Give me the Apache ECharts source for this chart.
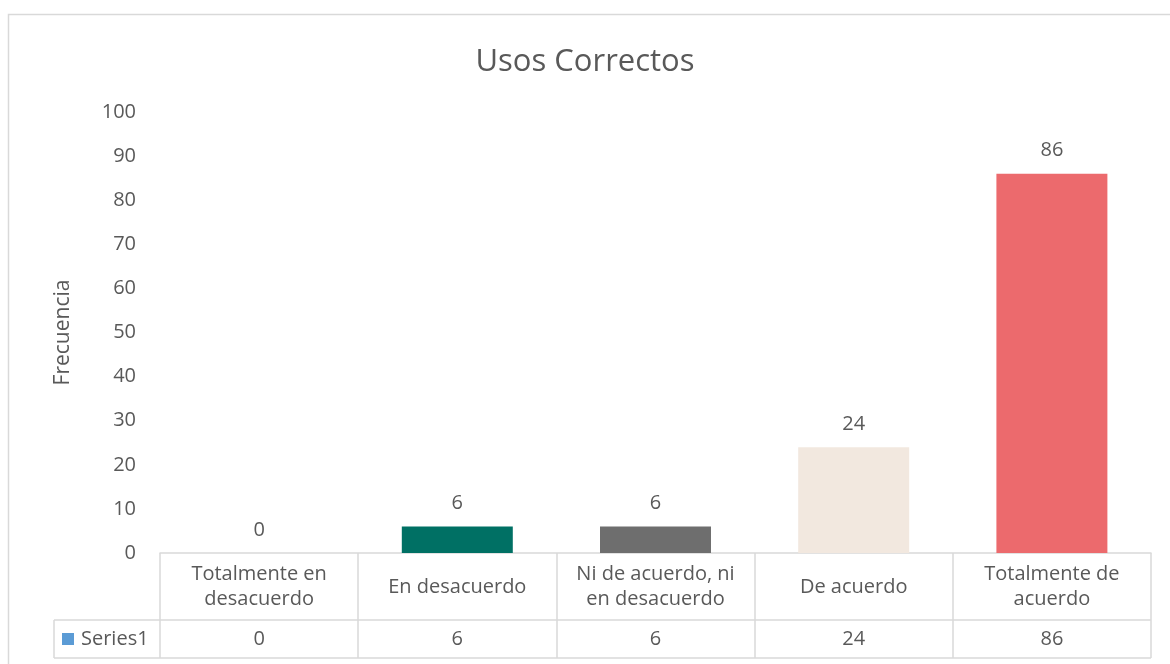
<!DOCTYPE html>
<html>
<head>
<meta charset="utf-8">
<script src="https://cdn.jsdelivr.net/npm/echarts@6/dist/echarts.min.js"></script>
<style>
  html, body { margin: 0; padding: 0; background: #fff; }
  #chart { width: 1170px; height: 664px; }
</style>
</head>
<body>
<div id="chart"></div>
<script>
// datos del gráfico
const categorias = ['Totalmente en\ndesacuerdo', 'En desacuerdo', 'Ni de acuerdo, ni\nen desacuerdo', 'De acuerdo', 'Totalmente de\nacuerdo']
const valores = [0, 6, 6, 24, 86]
const serieNombre = 'Series1'
const yTicks = { min: 0, max: 100, interval: 10 }

const colores = ['#5b9bd5', '#007064', '#6e6e6e', '#f2e8df', '#ec6a6d']
const fuente = 'Open Sans'
const gris = '#595959'
const linea = '#d9d9d9'

const myChart = echarts.init(document.getElementById('chart'))

const option = {
  backgroundColor: '#fff',
  animation: false,
  textStyle: { fontFamily: fuente },
  title: {
    text: 'Usos Correctos',
    left: 'center',
    top: 42,
    textStyle: { fontFamily: fuente, fontSize: 31, fontWeight: 'normal', color: gris }
  },
  grid: { left: 160, right: 19, top: 112, bottom: 111 },
  xAxis: [
    {
      type: 'category',
      data: categorias,
      axisLine: { show: true, lineStyle: { color: linea, width: 1.5 } },
      axisTick: { show: true, length: 105, lineStyle: { color: linea, width: 1.5 } },
      axisLabel: {
        interval: 0,
        color: gris,
        fontSize: 20,
        lineHeight: 25,
        verticalAlign: 'middle',
        margin: 34
      }
    },
    {
      type: 'category',
      position: 'bottom',
      offset: 67,
      data: valores.map(String),
      axisLine: { show: false },
      axisTick: { show: false },
      axisLabel: { interval: 0, color: gris, fontSize: 20, verticalAlign: 'middle', margin: 19 }
    }
  ],
  yAxis: {
    type: 'value',
    min: yTicks.min,
    max: yTicks.max,
    interval: yTicks.interval,
    name: 'Frecuencia',
    nameLocation: 'middle',
    nameGap: 86,
    nameTextStyle: { color: gris, fontSize: 21, fontFamily: fuente },
    axisLine: { show: false },
    axisTick: { show: false },
    splitLine: { show: false },
    axisLabel: { color: gris, fontSize: 20, margin: 24 }
  },
  series: [
    {
      name: serieNombre,
      type: 'bar',
      barWidth: '56%',
      data: valores.map((v, i) => ({ value: v, itemStyle: { color: colores[i] } })),
      label: { show: true, position: 'top', distance: 13, color: gris, fontSize: 20 }
    }
  ]
}
myChart.setOption(option)

// bordes de la tabla de datos y leyenda
const der = 1151
const fila = 620
const fin = 658
myChart.setOption({
  graphic: [
    { type: 'rect', shape: { x: 8.5, y: 14.5, width: 1300, height: 800 }, style: { fill: 'none', stroke: linea, lineWidth: 1.5 }, silent: true },
    { type: 'line', shape: { x1: 54, y1: fila, x2: der, y2: fila }, style: { stroke: linea, lineWidth: 1.5 } },
    { type: 'line', shape: { x1: 54, y1: fin, x2: der, y2: fin }, style: { stroke: linea, lineWidth: 1.5 } },
    { type: 'line', shape: { x1: 54, y1: fila, x2: 54, y2: fin }, style: { stroke: linea, lineWidth: 1.5 } },
    { type: 'rect', shape: { x: 62, y: 633, width: 12, height: 12 }, style: { fill: colores[0] } },
    { type: 'text', x: 81, y: 639, style: { text: serieNombre, fill: gris, fontSize: 20, fontFamily: fuente, verticalAlign: 'middle' } }
  ]
})
window.addEventListener('resize', () => { myChart.resize() })
</script>
</body>
</html>
